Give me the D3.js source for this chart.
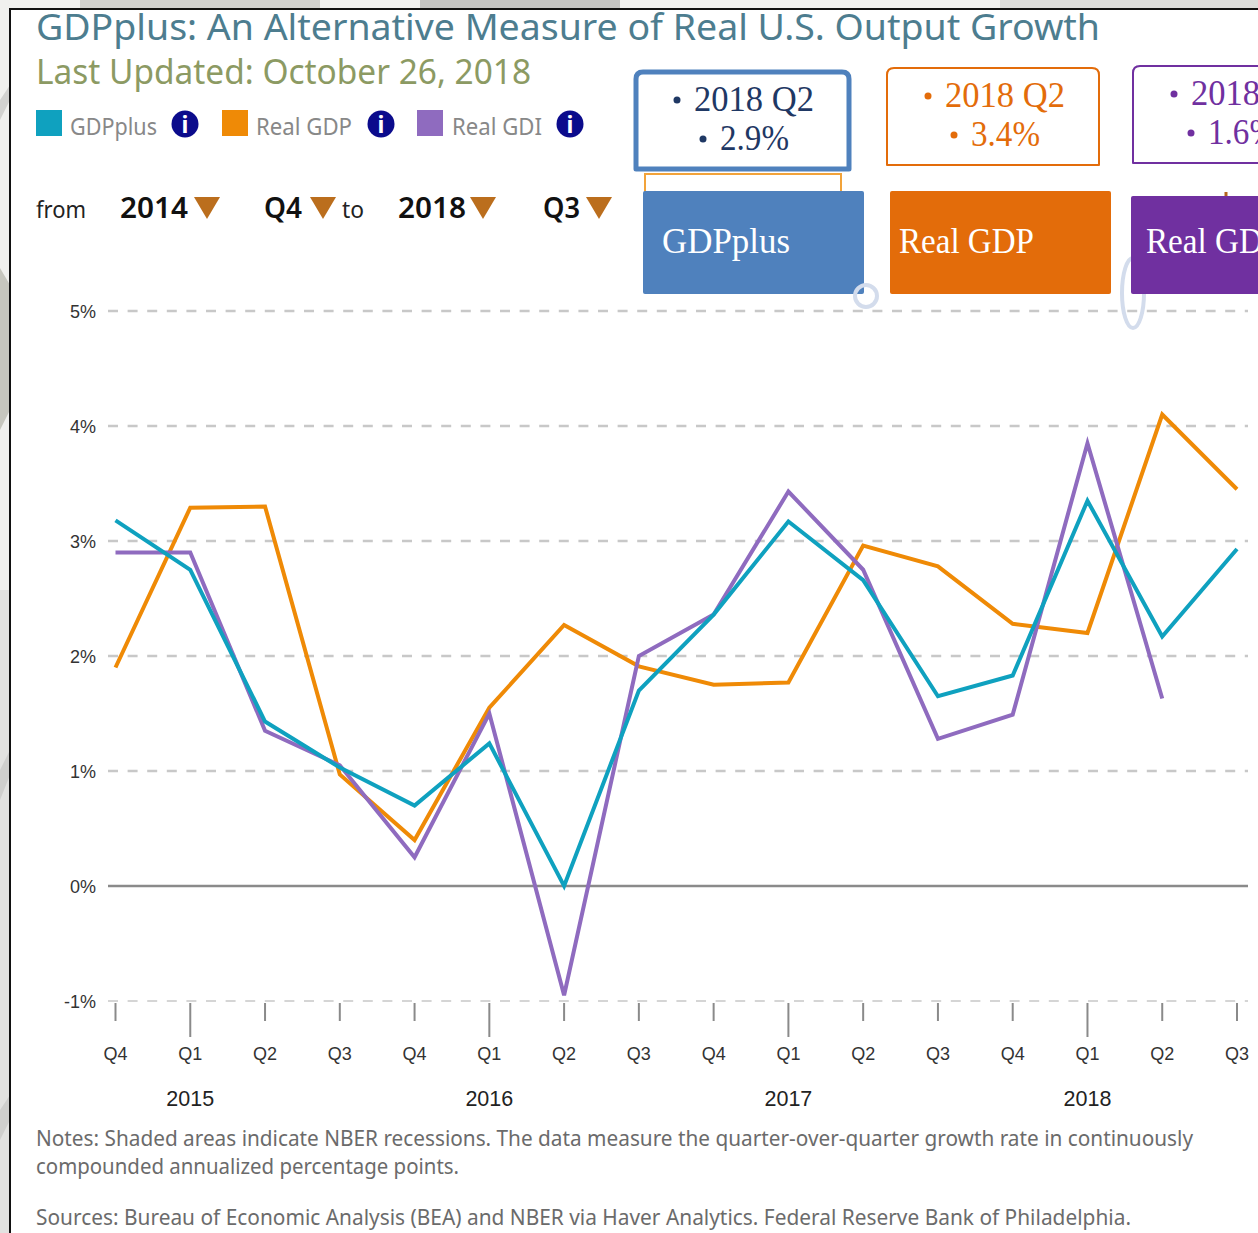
<!DOCTYPE html>
<html lang="en">
<head>
<meta charset="utf-8"/>
<title>GDPplus</title>
<script src="https://cdn.jsdelivr.net/npm/d3@7"></script>
<style>
  html, body { margin: 0; padding: 0; background: #fff; }
  svg { display: block; }
  text { font-family: "Noto Sans", sans-serif; }
</style>
</head>
<body>
<svg id="chart"></svg>
<script>
const quarters = ['Q4','Q1','Q2','Q3','Q4','Q1','Q2','Q3','Q4','Q1','Q2','Q3','Q4','Q1','Q2','Q3']
const yearLabels = [['2015',1],['2016',5],['2017',9],['2018',13]]
const yTicks = [-1,0,1,2,3,4,5]

const gdpplus = [3.18,2.75,1.43,1.03,0.70,1.24,0.0,1.70,2.36,3.17,2.66,1.65,1.83,3.35,2.17,2.93]
const realGdp = [1.90,3.29,3.30,0.97,0.40,1.55,2.27,1.91,1.75,1.77,2.96,2.78,2.28,2.20,4.10,3.45]
const realGdi = [2.90,2.90,1.35,1.05,0.25,1.50,-0.95,2.00,2.36,3.43,2.75,1.28,1.49,3.85,1.63,null]

const seriesColors = {gdpplus:'#0fa1bf', gdp:'#ef8a06', gdi:'#8f6bbf'}

const width = 1258
const height = 1233

const svg = d3.select('#chart').attr('width',width).attr('height',height)

// the grey marble page behind the frame
svg.append('rect').attr('width',width).attr('height',height).attr('fill','#f0f0ee')
svg.append('rect').attr('y',590).attr('width',10).attr('height',643).attr('fill','#e2e2e0')
svg.append('path').attr('d','M0,268 L10,285 V410 L0,430 Z').attr('fill','#c6c6be')
svg.append('path').attr('d','M0,100 L10,85 V100 L0,120 Z').attr('fill','#d2d2d0')
svg.append('path').attr('d','M0,770 L10,750 V775 L0,800 Z').attr('fill','#cfcfcd')
svg.append('path').attr('d','M0,1110 L10,1095 V1120 L0,1140 Z').attr('fill','#cfcfcd')
svg.append('rect').attr('x',80).attr('width',240).attr('height',8).attr('fill','#d0d0ce')
svg.append('rect').attr('x',420).attr('width',200).attr('height',8).attr('fill','#c4c4c2')
svg.append('rect').attr('x',1000).attr('width',258).attr('height',8).attr('fill','#dcdcda')

svg.append('rect').attr('x',10).attr('y',9).attr('width',width).attr('height',height)
  .attr('fill','#fff').attr('stroke','#111').attr('stroke-width',2)

const x = d3.scalePoint().domain(d3.range(quarters.length)).range([115.5,1237])
const y = d3.scaleLinear().domain([-1,5]).range([1001,311])

// y axis + gridlines
const yAxis = d3.axisLeft(y).tickValues(yTicks).tickSize(0).tickPadding(12).tickFormat(d => d + '%')
const yg = svg.append('g').attr('transform','translate(108,1)').call(yAxis)
yg.select('.domain').remove()
yg.selectAll('text').attr('font-family','"Liberation Sans", sans-serif').attr('font-size',18).attr('fill','#333')
  .style('font-family','"Liberation Sans", sans-serif')

svg.append('g').selectAll('line').data(yTicks).enter().append('line')
  .attr('x1',108).attr('x2',1248)
  .attr('y1',d => y(d)).attr('y2',d => y(d))
  .attr('stroke',d => d === 0 ? '#8a8a8a' : '#c8c8c8')
  .attr('stroke-width',d => d === 0 ? 2.5 : (d === -1 ? 1.5 : 2.5))
  .attr('stroke-dasharray',d => d === 0 ? null : '10 9.6')

// quarter ticks, the Q1 ones run longer
svg.append('g').selectAll('line').data(quarters.map((q,i) => [q,i])).enter().append('line')
  .attr('x1',d => x(d[1])).attr('x2',d => x(d[1]))
  .attr('y1',1003).attr('y2',d => d[0] === 'Q1' ? 1037 : 1021)
  .attr('stroke','#8a8a8a').attr('stroke-width',2)

svg.append('g').selectAll('text').data(quarters.map((q,i) => [q,i])).enter().append('text')
  .attr('x',d => x(d[1])).attr('y',1060).attr('text-anchor','middle')
  .attr('font-size',18).attr('fill','#333')
  .style('font-family','"Liberation Sans", sans-serif')
  .text(d => d[0])

svg.append('g').selectAll('text').data(yearLabels).enter().append('text')
  .attr('x',d => x(d[1])).attr('y',1106).attr('text-anchor','middle')
  .attr('font-size',21.5).attr('fill','#222')
  .style('font-family','"Liberation Sans", sans-serif')
  .text(d => d[0])

// series
const line = d3.line().defined(d => d !== null).x((d,i) => x(i)).y(d => y(d))
const drawSeries = (data,color) => svg.append('path').attr('d',line(data))
  .attr('fill','none').attr('stroke',color).attr('stroke-width',4).attr('stroke-linejoin','miter')
drawSeries(realGdp,seriesColors.gdp)
drawSeries(realGdi,seriesColors.gdi)
drawSeries(gdpplus,seriesColors.gdpplus)

// header
function label(tx,ty,size,color,str,len){
  const t = svg.append('text').attr('x',tx).attr('y',ty).attr('font-size',size).attr('fill',color).text(str)
  if(len) t.attr('textLength',len).attr('lengthAdjust','spacingAndGlyphs')
  return t
}
label(36,40,36,'#4d7d8f','GDPplus: An Alternative Measure of Real U.S. Output Growth',1064)
label(36,84,35,'#8c9a63','Last Updated: October 26, 2018',495)

const legendItems = [['GDPplus',36,70,87,seriesColors.gdpplus,185],['Real GDP',222,256,96,seriesColors.gdp,381],['Real GDI',417,452,90,seriesColors.gdi,570]]
legendItems.forEach(([name,bx,tx,len,color,ix]) => {
  svg.append('rect').attr('x',bx).attr('y',110).attr('width',26).attr('height',26).attr('fill',color)
  label(tx,135,23,'#888',name,len)
  svg.append('circle').attr('cx',ix).attr('cy',124).attr('r',13.5).attr('fill','#0b0b8c')
  label(ix,133,23,'#fff','i').attr('text-anchor','middle').attr('font-weight',700)
})

label(36,218,23,'#222','from',50)
label(342,218,23,'#222','to',22)
const selects = [['2014',120,68,194],['Q4',264,38,310],['2018',398,68,470],['Q3',543,37,586]]
selects.forEach(([s,tx,len,ax]) => {
  label(tx,218,29,'#111',s,len).attr('font-weight',600)
  svg.append('path').attr('d',`M${ax},197 h26 l-13,22 z`).attr('fill','#bb6e1d')
})

// callout boxes laid over the chart
svg.append('rect').attr('x',645).attr('y',174).attr('width',196).attr('height',40).attr('fill','#fff').attr('stroke','#f2a33a').attr('stroke-width',2)
svg.append('path').attr('d','M1226,192 v8').attr('stroke','#b5651d').attr('stroke-width',3)

// this one sits behind the purple box
svg.append('ellipse').attr('cx',1133).attr('cy',293).attr('rx',11).attr('ry',35).attr('fill','none').attr('stroke','#d3dcec').attr('stroke-width',4)

const valueBoxes = [
  {x:636,y:72,w:213,h:97,sw:5,stroke:'#4f81bd',fill:'#1f3864',lines:['2018 Q2','2.9%'],top:111,dots:[677,703]},
  {x:887,y:68,w:212,h:97,sw:2,stroke:'#e36c0a',fill:'#e36c0a',lines:['2018 Q2','3.4%'],top:107,dots:[928,954]},
  {x:1133,y:66,w:212,h:97,sw:2,stroke:'#7030a0',fill:'#7030a0',lines:['2018 Q2','1.6%'],top:105,dots:[1174,1191]}
]
valueBoxes.forEach(b => {
  // rounded along the top, square along the bottom
  const r = 7
  svg.append('path')
    .attr('d',`M${b.x},${b.y+b.h} V${b.y+r} Q${b.x},${b.y} ${b.x+r},${b.y} H${b.x+b.w-r} Q${b.x+b.w},${b.y} ${b.x+b.w},${b.y+r} V${b.y+b.h} Z`)
    .attr('fill','#fff').attr('stroke',b.stroke).attr('stroke-width',b.sw).attr('stroke-linejoin','round')
  b.lines.forEach((t,i) => {
    const ty = b.top + i*39
    svg.append('circle').attr('cx',b.dots[i]).attr('cy',ty-11).attr('r',3.5).attr('fill',b.fill)
    svg.append('text').attr('x',b.dots[i]+17).attr('y',ty)
      .attr('font-size',35).attr('fill',b.fill).style('font-family','"Liberation Serif", serif')
      .attr('textLength',i === 0 ? 120 : 69).attr('lengthAdjust','spacingAndGlyphs').text(t)
  })
})

const nameBoxes = [
  {x:643,y:191,w:221,h:103,fill:'#4f81bd',text:'GDPplus',tx:662,len:128},
  {x:890,y:191,w:221,h:103,fill:'#e36c0a',text:'Real GDP',tx:899,len:135},
  {x:1131,y:196,w:221,h:98,fill:'#7030a0',text:'Real GDI',tx:1146,len:128}
]
nameBoxes.forEach(b => {
  svg.append('rect').attr('x',b.x).attr('y',b.y).attr('width',b.w).attr('height',b.h).attr('rx',2).attr('fill',b.fill)
  svg.append('text').attr('x',b.tx).attr('y',253).attr('font-size',35).attr('fill','#fff')
    .style('font-family','"Liberation Serif", serif')
    .attr('textLength',b.len).attr('lengthAdjust','spacingAndGlyphs').text(b.text)
})

svg.append('circle').attr('cx',866).attr('cy',296).attr('r',11).attr('fill','none').attr('stroke','#d3dcec').attr('stroke-width',4)

// footer notes
label(36,1146,21,'#6b6b6b','Notes: Shaded areas indicate NBER recessions. The data measure the quarter-over-quarter growth rate in continuously',1157)
label(36,1174,21,'#6b6b6b','compounded annualized percentage points.',423)
label(36,1225,21,'#6b6b6b','Sources: Bureau of Economic Analysis (BEA) and NBER via Haver Analytics. Federal Reserve Bank of Philadelphia.',1095)
</script>
</body>
</html>
